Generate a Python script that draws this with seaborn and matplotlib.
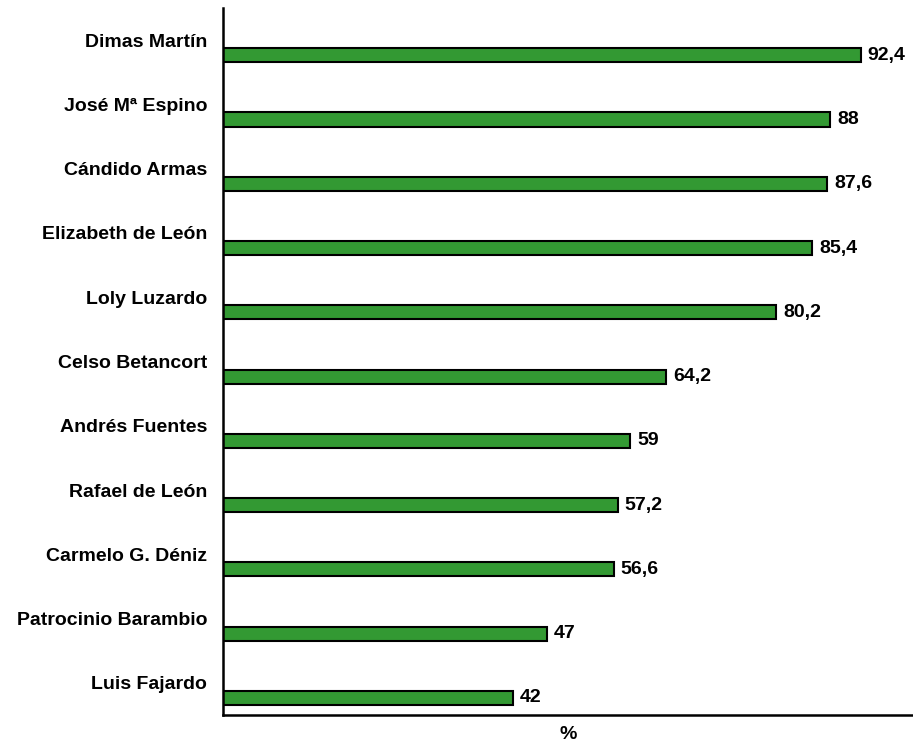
import matplotlib
matplotlib.use("Agg")
import matplotlib.pyplot as plt
import seaborn as sns
import pandas as pd

names = ["Dimas Martín", "José Mª Espino", "Cándido Armas", "Elizabeth de León",
         "Loly Luzardo", "Celso Betancort", "Andrés Fuentes", "Rafael de León",
         "Carmelo G. Déniz", "Patrocinio Barambio", "Luis Fajardo"]
values = [92.4, 88, 87.6, 85.4, 80.2, 64.2, 59, 57.2, 56.6, 47, 42]
value_labels = ["92,4", "88", "87,6", "85,4", "80,2", "64,2", "59", "57,2", "56,6", "47", "42"]

sns.set_theme(style="white")
plt.rcParams['font.family'] = ['Liberation Sans', 'DejaVu Sans']
plt.rcParams['text.color'] = 'black'
plt.rcParams['axes.labelcolor'] = 'black'
plt.rcParams['ytick.color'] = 'black'
plt.rcParams['xtick.color'] = 'black'

df = pd.DataFrame({"name": names, "value": values})

fig = plt.figure(figsize=(9.13, 7.45), dpi=100)
ax = fig.add_axes([223/913, 1 - 715/745, 1 - 223/913, (715 - 8)/745])

sns.barplot(data=df, x="value", y="name", orient="h", color="#339933",
            saturation=1, width=0.22, edgecolor="black", linewidth=1.5, ax=ax)

offset = 0.235
for p, lab in zip(ax.patches, value_labels):
    p.set_y(p.get_y() + offset)
    ax.text(p.get_width() + 1.0, p.get_y() + p.get_height() / 2, lab,
            ha="left", va="center", fontsize=14, fontweight="bold", color="black")

ax.set_xlim(0, 100)
ax.set_ylim(len(names) - 0.5, -0.5)
ax.set_xticks([])
ax.tick_params(axis="y", length=0, pad=11.4, labelcolor="black")
for t in ax.get_yticklabels():
    t.set_fontweight("bold")
    t.set_fontsize(14)
    t.set_color("black")
ax.set_ylabel("")
ax.set_xlabel("%", fontsize=14, fontweight="bold", labelpad=8, color="black")

for s in ["top", "right"]:
    ax.spines[s].set_visible(False)
for s in ["left", "bottom"]:
    ax.spines[s].set_color("black")
    ax.spines[s].set_linewidth(1.8)

fig.savefig("out.png", dpi=100)
